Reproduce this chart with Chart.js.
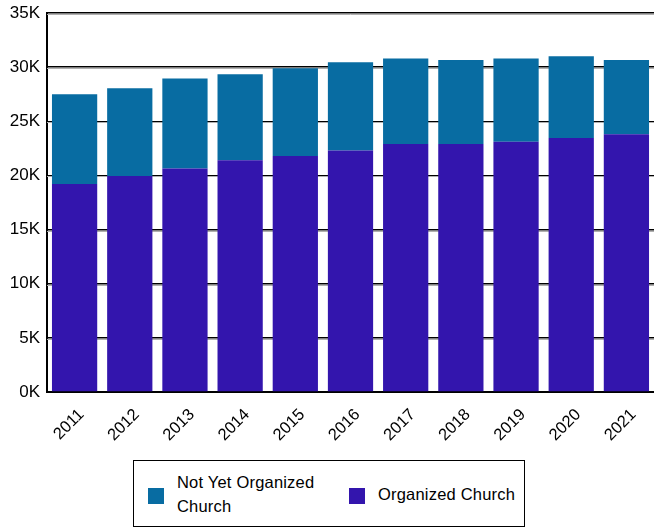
<!DOCTYPE html>
<html>
<head>
<meta charset="utf-8">
<script src="https://cdn.jsdelivr.net/npm/chart.js@4/dist/chart.umd.min.js"></script>
<style>
  body { margin: 0; background: #fff; font-family: "Liberation Sans", Arial, sans-serif; }
  #wrap { position: relative; width: 654px; height: 529px; }
  #chartBox { position: absolute; left: 0; top: 0; width: 654px; height: 445px; }
  #legend { position: absolute; left: 133px; top: 460px; width: 392px; height: 67px; border: 1px solid #000; box-sizing: border-box; }
  .sw { position: absolute; width: 16px; height: 16px; }
  .lt { position: absolute; font-size: 16.5px; line-height: 24px; color: #000; letter-spacing: 0.2px; }
</style>
</head>
<body>
<div id="wrap">
  <div id="chartBox"><canvas id="chart"></canvas></div>
  <div id="legend">
    <div class="sw" style="left:14px; top:27px; background:#086ca2"></div>
    <div class="lt" style="left:43px; top:9px">Not Yet Organized<br>Church</div>
    <div class="sw" style="left:215px; top:27px; background:#3315ad"></div>
    <div class="lt" style="left:244px; top:21px">Organized Church</div>
  </div>
</div>
<script>
// ── Data ───────────────────────────────────────────────
const YEARS = ["2011", "2012", "2013", "2014", "2015", "2016", "2017", "2018", "2019", "2020", "2021"];
const ORGANIZED = [19200, 19950, 20650, 21400, 21800, 22300, 22900, 22900, 23100, 23450, 23800];
const TOTAL = [27500, 28050, 28950, 29350, 29900, 30450, 30800, 30650, 30800, 31000, 30650];
const NOT_YET = TOTAL.map((t, i) => t - ORGANIZED[i]);

// gray shadow line under each grid line
const gridShadow = {
  id: "gridShadow",
  beforeDatasetsDraw(chart) {
    const { ctx, chartArea, scales } = chart;
    ctx.save();
    ctx.strokeStyle = "#b0b0b0";
    ctx.lineWidth = 1;
    scales.y.ticks.forEach(t => {
      if (t.value === 0) return;
      const y = Math.round(scales.y.getPixelForValue(t.value)) + 1.5;
      ctx.beginPath();
      ctx.moveTo(chartArea.left, y);
      ctx.lineTo(chartArea.right, y);
      ctx.stroke();
    });
    ctx.restore();
  }
};

new Chart(document.getElementById("chart"), {
  type: "bar",
  data: {
    labels: YEARS,
    datasets: [
      { label: "Organized Church", data: ORGANIZED, backgroundColor: "#3315ad", barPercentage: 0.82, categoryPercentage: 1 },
      { label: "Not Yet Organized Church", data: NOT_YET, backgroundColor: "#086ca2", barPercentage: 0.82, categoryPercentage: 1 }
    ]
  },
  options: {
    responsive: true, maintainAspectRatio: false, animation: false,
    layout: { padding: { top: 13, right: 0, left: 0, bottom: 0 } },
    plugins: { legend: { display: false }, tooltip: { enabled: false } },
    scales: {
      x: {
        stacked: true,
        grid: { display: false },
        border: { color: "#000", width: 2 },
        ticks: { color: "#000", minRotation: 45, maxRotation: 45, padding: 5, labelOffset: 7, font: { size: 16.5, family: "'Liberation Sans', Arial" } },
        afterFit(s) { s.height = 53; }
      },
      y: {
        stacked: true,
        min: 0, max: 35000,
        grid: { color: "#000", lineWidth: 1.5, drawTicks: false },
        border: { color: "#000", width: 2 },
        ticks: { stepSize: 5000, color: "#000", padding: 7, font: { size: 17, family: "'Liberation Sans', Arial" }, callback: v => (v / 1000) + "K" },
        afterFit(s) { s.width = 47; s.paddingTop = 0; s.paddingBottom = 0; }
      }
    }
  },
  plugins: [gridShadow]
});
</script>
</body>
</html>
